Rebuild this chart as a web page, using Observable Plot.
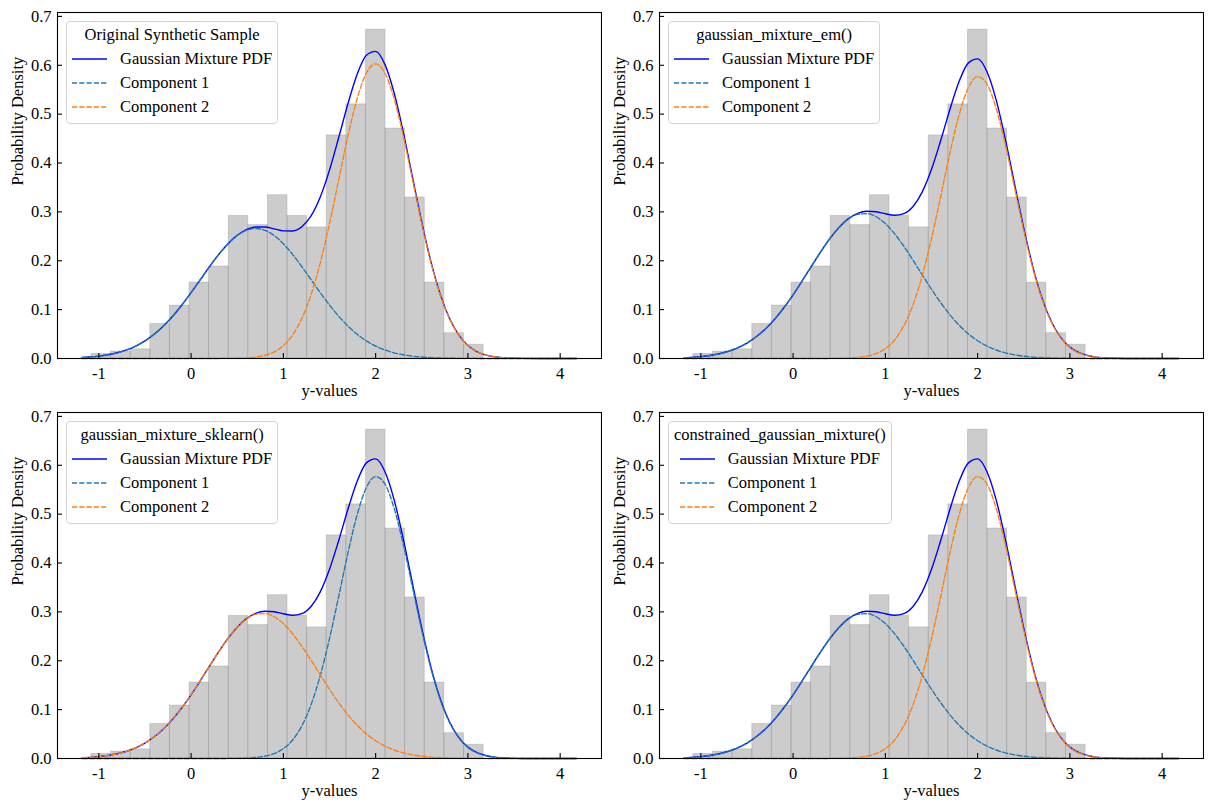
<!DOCTYPE html>
<html>
<head>
<meta charset="utf-8">
<script src="https://cdn.jsdelivr.net/npm/d3@7"></script>
<script src="https://cdn.jsdelivr.net/npm/@observablehq/plot@0.6"></script>
<style>
  html, body { margin: 0; padding: 0; background: #ffffff; }
  #fig { position: relative; width: 1211px; height: 811px; background: #ffffff; overflow: hidden;
         font-family: "Liberation Serif", "Times New Roman", serif; }
  .panel { position: absolute; width: 602px; height: 400px; }
  .panel svg { display: block; max-width: none !important; }
  .legend { position: absolute; box-sizing: border-box; display: flex; flex-direction: column; align-items: center;
            background: rgba(255,255,255,0.8); border: 1px solid #d4d4d4; border-radius: 4px;
            padding: 1px 5px 4px 5px; font-size: 16.5px; line-height: 24px; color: #000; white-space: nowrap; }
  .legend .rows { display: flex; flex-direction: column; align-items: flex-start; }
  .legend .row { display: flex; align-items: center; height: 24px; }
  .legend .row svg { width: 35px; height: 10px; margin-right: 13px; display: block; }
</style>
</head>
<body>
<div id="fig"></div>
<script>
// ---------------- data ----------------
const binX1 = [-1.08, -0.8675, -0.655, -0.4425, -0.23, -0.0175, 0.195, 0.4075, 0.62, 0.8325,
               1.045, 1.2575, 1.47, 1.6825, 1.895, 2.1075, 2.32, 2.5325, 2.745, 2.9575];
const binX2 = [-0.8675, -0.655, -0.4425, -0.23, -0.0175, 0.195, 0.4075, 0.62, 0.8325, 1.045,
               1.2575, 1.47, 1.6825, 1.895, 2.1075, 2.32, 2.5325, 2.745, 2.9575, 3.17];
const binDensity = [0.0094, 0.0141, 0.0188, 0.0706, 0.1082, 0.1553, 0.1882, 0.2918, 0.2729, 0.3341,
                    0.2918, 0.2682, 0.4565, 0.5200, 0.6729, 0.4706, 0.3294, 0.1553, 0.0518, 0.0282];

const curveX = [-1.18,-1.1,-1.0,-0.9,-0.8,-0.7,-0.6,-0.5,-0.4,-0.3,-0.2,-0.1,0.0,0.1,0.2,0.3,0.4,0.5,0.6,0.7,
                0.8,0.9,1.0,1.1,1.2,1.3,1.4,1.5,1.6,1.7,1.8,1.9,2.0,2.1,2.2,2.3,2.4,2.5,2.6,2.7,
                2.8,2.9,3.0,3.1,3.2,3.3,3.4,3.6,3.8,4.0,4.18];

// Original synthetic sample
const mixtureA = [0.0020,0.0030,0.0048,0.0076,0.0117,0.0175,0.0254,0.0360,0.0495,0.0663,0.0864,0.1094,0.1347,0.1613,0.1880,0.2131,0.2349,0.2521,0.2636,0.2691,
                  0.2690,0.2653,0.2612,0.2610,0.2696,0.2918,0.3305,0.3855,0.4521,0.5215,0.5816,0.6204,0.6284,0.6019,0.5438,0.4628,0.3705,0.2791,0.1976,0.1315,
                  0.0822,0.0483,0.0267,0.0138,0.0068,0.0031,0.0013,0.0002,0,0,0];
const comp1A = [0.0020,0.0030,0.0048,0.0076,0.0117,0.0175,0.0254,0.0360,0.0495,0.0663,0.0864,0.1094,0.1347,0.1613,0.1880,0.2130,0.2347,0.2516,0.2623,0.2660,
                0.2623,0.2516,0.2347,0.2130,0.1880,0.1613,0.1347,0.1094,0.0864,0.0663,0.0495,0.0360,0.0254,0.0175,0.0117,0.0076,0.0048,0.0030,0.0018,0.0010,
                0.0006,0.0003,0.0002,0.0001,0.0001,0,0,0,0,0,0];
const comp2A = [0,0,0,0,0,0,0,0,0,0,0,0,0,0,0,0.0001,0.0002,0.0005,0.0013,0.0031,
                0.0067,0.0137,0.0265,0.0480,0.0816,0.1305,0.1958,0.2761,0.3657,0.4552,0.5321,0.5844,0.6030,0.5844,0.5321,0.4552,0.3657,0.2761,0.1958,0.1305,
                0.0816,0.0480,0.0265,0.0137,0.0067,0.0031,0.0013,0.0002,0,0,0];

// Fitted mixture (em / sklearn / constrained)
const mixtureB = [0.0015,0.0023,0.0038,0.0062,0.0097,0.0148,0.0219,0.0316,0.0444,0.0606,0.0804,0.1038,0.1304,0.1592,0.1891,0.2185,0.2457,0.2687,0.2861,0.2971,
                  0.3013,0.3002,0.2962,0.2932,0.2965,0.3111,0.3409,0.3871,0.4461,0.5101,0.5672,0.6049,0.6131,0.5873,0.5298,0.4491,0.3574,0.2668,0.1866,0.1224,
                  0.0751,0.0433,0.0233,0.0118,0.0056,0.0024,0.0010,0.0001,0,0,0];
const lowCompB = [0.0015,0.0023,0.0038,0.0062,0.0097,0.0148,0.0219,0.0316,0.0444,0.0606,0.0804,0.1038,0.1304,0.1592,0.1891,0.2185,0.2456,0.2684,0.2853,0.2950,
                  0.2966,0.2901,0.2760,0.2553,0.2297,0.2011,0.1711,0.1417,0.1141,0.0894,0.0681,0.0504,0.0363,0.0255,0.0174,0.0115,0.0074,0.0047,0.0028,0.0017,
                  0.0010,0.0006,0.0003,0.0002,0.0001,0,0,0,0,0,0];
const highCompB = [0,0,0,0,0,0,0,0,0,0,0,0,0,0,0,0,0.0001,0.0003,0.0008,0.0021,
                   0.0047,0.0101,0.0202,0.0379,0.0668,0.1100,0.1698,0.2454,0.3320,0.4207,0.4991,0.5545,0.5768,0.5618,0.5124,0.4376,0.3500,0.2621,0.1838,0.1207,
                   0.0741,0.0427,0.0230,0.0116,0.0055,0.0024,0.0010,0.0001,0,0,0];

const xTicks = [-1, 0, 1, 2, 3, 4];
const xTickLabels = ["-1", "0", "1", "2", "3", "4"];
const yTicks = [0, 0.1, 0.2, 0.3, 0.4, 0.5, 0.6, 0.7];
const yTickLabels = ["0.0", "0.1", "0.2", "0.3", "0.4", "0.5", "0.6", "0.7"];

const legendTitles = ["Original Synthetic Sample", "gaussian_mixture_em()", "gaussian_mixture_sklearn()", "constrained_gaussian_mixture()"];
const seriesNames = ["Gaussian Mixture PDF", "Component 1", "Component 2"];
const xLabel = "y-values";
const yLabel = "Probability Density";

// ---------------- drawing ----------------
const FW = 544, FH = 346, ML = 57, MT = 12;
const bins = binDensity.map((h, i) => ({x1: binX1[i], x2: binX2[i], h}));
const colors = ["#0000ff", "#1f77b4", "#ff7f0e"];
const dash = "5.1,2.2";

const panels = [
  {left: 0,   top: 0,   title: legendTitles[0], mix: mixtureA, c1: comp1A,    c2: comp2A},
  {left: 602, top: 0,   title: legendTitles[1], mix: mixtureB, c1: lowCompB,  c2: highCompB},
  {left: 0,   top: 400, title: legendTitles[2], mix: mixtureB, c1: highCompB, c2: lowCompB},
  {left: 602, top: 400, title: legendTitles[3], mix: mixtureB, c1: lowCompB,  c2: highCompB}
];

const fig = document.getElementById("fig");

for (const p of panels) {
  const pts = curveX.map((x, i) => ({x, mix: p.mix[i], c1: p.c1[i], c2: p.c2[i]}));
  const chart = Plot.plot({
    width: ML + FW + 1,
    height: 400,
    marginLeft: ML, marginRight: 1, marginTop: MT, marginBottom: 400 - MT - FH,
    style: {fontFamily: "'Liberation Serif', 'Times New Roman', serif", fontSize: "16.5px", background: "transparent", color: "#000"},
    x: {domain: [-1.448, 4.448]},
    y: {domain: [0, 0.708]},
    marks: [
      Plot.rectY(bins, {x1: "x1", x2: "x2", y: "h", fill: "gray", fillOpacity: 0.4, stroke: "gray", strokeOpacity: 0.3, strokeWidth: 0.9}),
      Plot.line(pts, {x: "x", y: "mix", stroke: colors[0], strokeWidth: 1.4, curve: "monotone-x"}),
      Plot.line(pts, {x: "x", y: "c1", stroke: colors[1], strokeWidth: 1.35, strokeDasharray: dash, curve: "monotone-x"}),
      Plot.line(pts, {x: "x", y: "c2", stroke: colors[2], strokeWidth: 1.35, strokeDasharray: dash, curve: "monotone-x"}),
      Plot.frame({stroke: "#000", strokeWidth: 1.1}),
      Plot.tickX(xTicks, {x: d => d, insetTop: FH - 5, stroke: "#000", strokeWidth: 1.1}),
      Plot.tickY(yTicks, {y: d => d, insetRight: FW - 5, stroke: "#000", strokeWidth: 1.1}),
      Plot.axisX(xTicks, {tickSize: 0, tickPadding: 9, tickFormat: d => xTickLabels[xTicks.indexOf(d)], label: null, fill: "#000"}),
      Plot.axisY(yTicks, {tickSize: 0, tickPadding: 6, tickFormat: d => yTickLabels[yTicks.indexOf(d)], label: null, fill: "#000"}),
      Plot.text([xLabel], {text: d => d, frameAnchor: "bottom", dy: 37.5, fill: "#000"}),
      Plot.text([yLabel], {text: d => d, frameAnchor: "left", rotate: -90, dx: -40, fill: "#000"})
    ]
  });
  const div = document.createElement("div");
  div.className = "panel";
  div.style.left = p.left + "px";
  div.style.top = p.top + "px";
  div.appendChild(chart);

  // legend
  const lg = document.createElement("div");
  lg.className = "legend";
  lg.style.left = (ML + 9) + "px";
  lg.style.top = (MT + 8.5) + "px";
  const t = document.createElement("div");
  t.textContent = p.title;
  lg.appendChild(t);
  const rows = document.createElement("div");
  rows.className = "rows";
  seriesNames.forEach((name, i) => {
    const r = document.createElement("div");
    r.className = "row";
    const dashAttr = i === 0 ? "" : ` stroke-dasharray="${dash}"`;
    const sw = i === 0 ? 1.4 : 1.35;
    r.innerHTML = `<svg viewBox="0 0 35 10"><line x1="0" y1="5" x2="35" y2="5" stroke="${colors[i]}" stroke-width="${sw}"${dashAttr}/></svg>`;
    const s = document.createElement("span");
    s.textContent = name;
    r.appendChild(s);
    rows.appendChild(r);
  });
  lg.appendChild(rows);
  div.appendChild(lg);
  fig.appendChild(div);
}
</script>
</body>
</html>
